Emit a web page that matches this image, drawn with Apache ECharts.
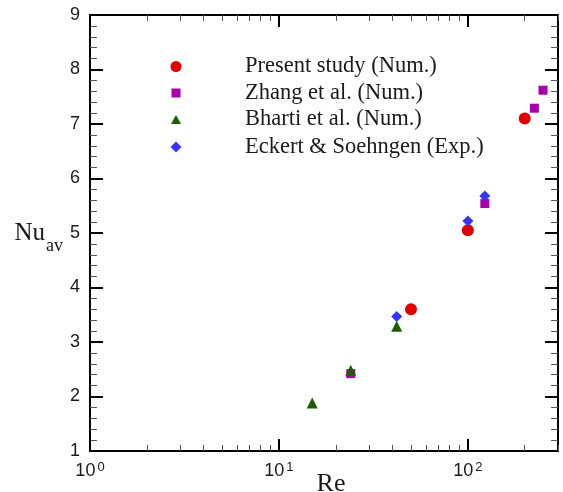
<!DOCTYPE html>
<html>
<head>
<meta charset="utf-8">
<script src="https://cdn.jsdelivr.net/npm/echarts@6/dist/echarts.min.js"></script>
<style>
  html, body { margin: 0; padding: 0; background: #fff; }
  #main { width: 563px; height: 492px; }
</style>
</head>
<body>
<div id="main"></div>
<script>
// values: [Re, Nu_av]
var present = [[50, 3.60], [100, 5.05], [200, 7.10]];
var zhang = [[24, 2.42], [123, 5.54], [225, 7.29], [250, 7.62]];
var bharti = [[15, 1.88], [24, 2.48], [42, 3.29]];
var eckert = [[42, 3.47], [100, 5.22], [123, 5.68]];

var names = ['Present study (Num.)', 'Zhang et al. (Num.)', 'Bharti et al. (Num.)', 'Eckert & Soehngen (Exp.)'];
var colors = ['#e00000', '#a800a8', '#1b5e00', '#3535ff'];
var symbols = ['circle', 'rect', 'triangle', 'diamond'];
var sizes = [12, 9, 11, 11];
var legendSizes = [11, 9, 10, 11];
var legendRows = [67, 93.5, 120, 147.5];

var xMajor = [1, 10, 100];
var xMinor = [2, 3, 4, 5, 6, 7, 8, 9, 20, 30, 40, 50, 60, 70, 80, 90, 200, 300];

var chart = echarts.init(document.getElementById('main'));

function xAxisDef(pos, major) {
  return {
    type: 'log', logBase: 10, min: 1, max: 300, position: pos,
    axisLine: { show: major, lineStyle: { color: '#000', width: 2 } },
    axisTick: {
      inside: true, length: major ? 12 : 6,
      lineStyle: { color: major ? '#000' : '#555', width: major ? 2 : 1 },
      customValues: major ? xMajor : xMinor
    },
    axisLabel: {
      show: major && pos === 'bottom', customValues: xMajor, margin: 10,
      formatter: function (v) {
        return '{b|10}{p|' + Math.round(Math.log10(v)) + '}';
      },
      rich: {
        b: { fontFamily: 'Liberation Sans', fontSize: 18, color: '#1a1a1a', lineHeight: 20 },
        p: { fontFamily: 'Liberation Sans', fontSize: 13, color: '#1a1a1a', verticalAlign: 'top', lineHeight: 12, padding: [0, 0, 0, 2] }
      }
    },
    splitLine: { show: false },
    minorTick: { show: false }
  };
}

function yAxisDef(pos) {
  return {
    type: 'value', min: 1, max: 9, interval: 1, position: pos,
    axisLine: { show: true, lineStyle: { color: '#000', width: 2 } },
    axisTick: { inside: true, length: 13, lineStyle: { color: '#000', width: 2 } },
    minorTick: { show: true, splitNumber: 5, length: 7, lineStyle: { color: '#555', width: 1 } },
    axisLabel: {
      show: pos === 'left', margin: 10,
      fontFamily: 'Liberation Sans', fontSize: 18, color: '#1a1a1a'
    },
    splitLine: { show: false }
  };
}

var xAxes = [xAxisDef('bottom', true), xAxisDef('bottom', false), xAxisDef('top', true), xAxisDef('top', false)];
xAxes[0].name = 'Re';
xAxes[0].nameLocation = 'middle';
xAxes[0].nameGap = 20;
xAxes[0].nameMoveOverlap = false;
xAxes[0].nameTextStyle = { fontFamily: 'Liberation Serif', fontSize: 26, color: '#1a1a1a', padding: [0, 0, 0, 14] };

var yAxes = [yAxisDef('left'), yAxisDef('right')];
yAxes[0].name = '{n|Nu}{s|av}';
yAxes[0].nameLocation = 'middle';
yAxes[0].nameRotate = 0;
yAxes[0].nameGap = 27;
yAxes[0].nameMoveOverlap = false;
yAxes[0].nameTextStyle = {
  rich: {
    n: { fontFamily: 'Liberation Serif', fontSize: 25, color: '#1a1a1a', lineHeight: 25 },
    s: { fontFamily: 'Liberation Serif', fontSize: 18, color: '#1a1a1a', lineHeight: 18, padding: [27, 0, 0, 1] }
  }
};

var seriesData = [present, zhang, bharti, eckert];
var series = seriesData.map(function (d, i) {
  return {
    name: names[i], type: 'scatter', data: d,
    symbol: symbols[i], symbolSize: sizes[i],
    itemStyle: { color: colors[i], opacity: 1 },
    emphasis: { disabled: true }
  };
});

// one legend per entry so each icon keeps its own size
var legends = names.map(function (n, i) {
  var w = legendSizes[i];
  return {
    orient: 'vertical', left: 176 - w / 2, top: legendRows[i] - 12, padding: 0,
    itemWidth: w, itemHeight: i === 2 ? 9 : w,
    data: [{ name: n, icon: symbols[i], itemStyle: { color: colors[i] } }],
    formatter: function (s) { return '{sp|}{t|' + s + '}'; },
    textStyle: {
      rich: {
        sp: { width: 64 - w / 2, lineHeight: 24 },
        t: { fontFamily: 'Liberation Serif', fontSize: 22.5, color: '#1a1a1a', lineHeight: 24 }
      }
    }
  };
});

chart.setOption({
  animation: false,
  backgroundColor: '#fff',
  grid: { left: 90, right: 5, top: 15, bottom: 41, containLabel: false, outerBoundsMode: 'none' },
  legend: legends,
  xAxis: xAxes,
  yAxis: yAxes,
  series: series
});
</script>
</body>
</html>
